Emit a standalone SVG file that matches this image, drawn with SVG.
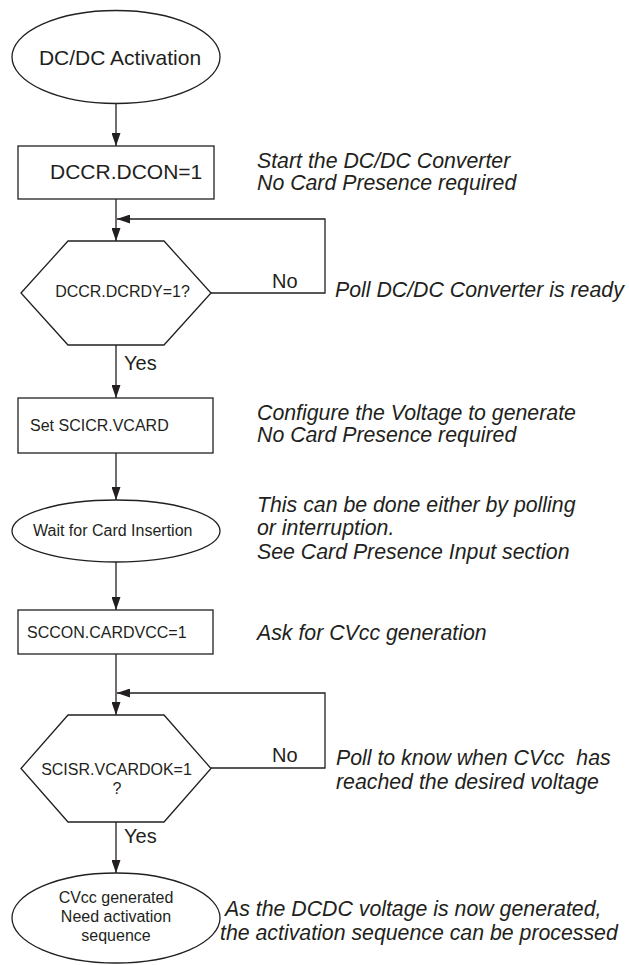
<svg xmlns="http://www.w3.org/2000/svg" width="629" height="965" viewBox="0 0 629 965">
<style>
.shape{fill:#fff;stroke:#231f20;stroke-width:1.3}
.conn{fill:none;stroke:#231f20;stroke-width:1.3}
text{font-family:"Liberation Sans",Arial,sans-serif;fill:#231f20}
.big{font-size:21px}
.sm{font-size:16px}
.lbl{font-size:20px}
.note{font-size:21.3px;font-style:italic}
.c{text-anchor:middle}
</style>
<defs>
<marker id="ah" viewBox="0 0 13 9" refX="13" refY="4.5" markerWidth="13" markerHeight="9" markerUnits="userSpaceOnUse" orient="auto">
<path d="M0,0 L13,4.5 L0,9 Z" fill="#231f20"/>
</marker>
</defs>
<rect width="629" height="965" fill="#fff"/>
<g id="connectors">
<line class="conn" x1="116" y1="103" x2="116" y2="146" marker-end="url(#ah)"/>
<line class="conn" x1="116" y1="199" x2="116" y2="241" marker-end="url(#ah)"/>
<polyline class="conn" points="211,293 325,293 325,219 117,219" marker-end="url(#ah)"/>
<line class="conn" x1="116" y1="345" x2="116" y2="398" marker-end="url(#ah)"/>
<line class="conn" x1="116" y1="453" x2="116" y2="500" marker-end="url(#ah)"/>
<line class="conn" x1="116" y1="562" x2="116" y2="610" marker-end="url(#ah)"/>
<line class="conn" x1="116" y1="654" x2="116" y2="715" marker-end="url(#ah)"/>
<polyline class="conn" points="211,768 325,768 325,693 117,693" marker-end="url(#ah)"/>
<line class="conn" x1="116" y1="822" x2="116" y2="873" marker-end="url(#ah)"/>
<text class="lbl" x="272" y="288">No</text>
<text class="lbl" x="124" y="370">Yes</text>
<text class="lbl" x="272" y="762">No</text>
<text class="lbl" x="124" y="843">Yes</text>
</g>
<g id="start">
<ellipse class="shape" cx="116" cy="57" rx="104" ry="46.5"/>
<text class="big c" x="120" y="65">DC/DC Activation</text>
</g>
<g id="dccon">
<rect class="shape" x="18" y="146" width="196" height="53"/>
<text class="big" x="50" y="179">DCCR.DCON=1</text>
</g>
<g id="dcrdy">
<polygon class="shape" points="21,293 68,241 164,241 211,293 164,345 68,345"/>
<text class="sm c" x="122.5" y="297">DCCR.DCRDY=1?</text>
</g>
<g id="vcard">
<rect class="shape" x="18" y="398" width="195" height="55"/>
<text class="sm" x="30" y="431">Set SCICR.VCARD</text>
</g>
<g id="wait">
<ellipse class="shape" cx="116" cy="531" rx="104" ry="31"/>
<text class="sm" x="33" y="536">Wait for Card Insertion</text>
</g>
<g id="cardvcc">
<rect class="shape" x="18" y="610" width="195" height="44"/>
<text class="sm" x="27" y="638">SCCON.CARDVCC=1</text>
</g>
<g id="vcardok">
<polygon class="shape" points="21,768.5 68,715 164,715 211,768.5 164,822 68,822"/>
<text class="sm c" x="116.5" y="775">SCISR.VCARDOK=1</text>
<text class="sm c" x="117" y="794">?</text>
</g>
<g id="end">
<ellipse class="shape" cx="116" cy="918" rx="104" ry="45"/>
<text class="sm c" x="116" y="903">CVcc generated</text>
<text class="sm c" x="116" y="922">Need activation</text>
<text class="sm c" x="116" y="941">sequence</text>
</g>
<g id="notes">
<text class="note" x="257" y="168">Start the DC/DC Converter</text>
<text class="note" x="257" y="190">No Card Presence required</text>
<text class="note" x="335" y="297">Poll DC/DC Converter is ready</text>
<text class="note" x="257" y="420">Configure the Voltage to generate</text>
<text class="note" x="257" y="442">No Card Presence required</text>
<text class="note" x="257" y="512">This can be done either by polling</text>
<text class="note" x="257" y="535">or interruption.</text>
<text class="note" x="257" y="559">See Card Presence Input section</text>
<text class="note" x="257" y="640">Ask for CVcc generation</text>
<text class="note" x="336" y="765" xml:space="preserve">Poll to know when CVcc  has</text>
<text class="note" x="336" y="789">reached the desired voltage</text>
<text class="note" x="225" y="916">As the DCDC voltage is now generated,</text>
<text class="note" x="220" y="940">the activation sequence can be processed</text>
</g>
</svg>
